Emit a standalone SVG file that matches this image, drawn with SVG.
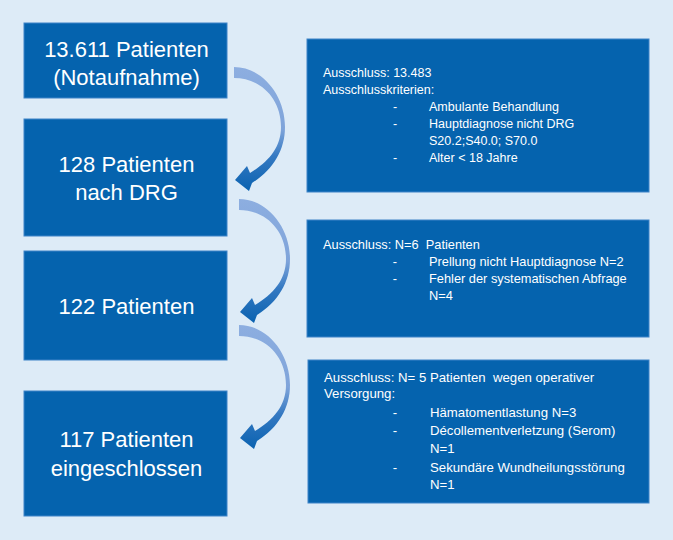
<svg xmlns="http://www.w3.org/2000/svg" width="673" height="540" viewBox="0 0 673 540">
<style>
.box{fill:#0563AE;stroke:#3F84C8;stroke-width:1}
.big{font-family:"Liberation Sans",Arial,sans-serif;font-size:22px;fill:#fff;text-anchor:middle}
.sm{font-family:"Liberation Sans",Arial,sans-serif;fill:#fff;white-space:pre}
.a{font-size:12.5px}
.b{font-size:12.8px}
.c{font-size:13.2px}
.d{text-anchor:middle}
</style>
<defs>
<linearGradient id="g" x1="0" y1="0" x2="0" y2="1">
<stop offset="0" stop-color="#8DAEE0"/>
<stop offset="0.5" stop-color="#7FA4DA"/>
<stop offset="0.72" stop-color="#3479C2"/>
<stop offset="1" stop-color="#0A62B0"/>
</linearGradient>
<path id="arr" d="M234,67 C262,67 285,95 285,127 C285,150 273,170 252,183 L249,191 L235,180 L247,166 L250,173 C268,162 281,148 281,127 C281,98 260,78 234,78 Z" fill="url(#g)"/>
</defs>
<rect width="673" height="540" fill="#DDEBF7"/>
<g id="connectors">
<use href="#arr"/>
<use href="#arr" transform="translate(5,132)"/>
<use href="#arr" transform="translate(5,258)"/>
</g>
<g id="n1"><rect class="box" x="24" y="23" width="203" height="75"/>
<text class="big" x="126.5" y="57">13.611 Patienten</text>
<text class="big" x="126.5" y="85">(Notaufnahme)</text></g>
<g id="n2"><rect class="box" x="24" y="119" width="203" height="117"/>
<text class="big" x="126.5" y="172">128 Patienten</text>
<text class="big" x="126.5" y="200">nach DRG</text></g>
<g id="n3"><rect class="box" x="24" y="251" width="203" height="109"/>
<text class="big" x="126.5" y="314">122 Patienten</text></g>
<g id="n4"><rect class="box" x="24" y="391" width="203" height="125"/>
<text class="big" x="126.5" y="447">117 Patienten</text>
<text class="big" x="126.5" y="476">eingeschlossen</text></g>
<g id="ex1"><rect class="box" x="307" y="39" width="342" height="153"/>
<text class="sm a" x="323" y="77">Ausschluss: 13.483</text>
<text class="sm a" x="323" y="94">Ausschlusskriterien:</text>
<text class="sm a d" x="395" y="111">-</text><text class="sm a" x="429" y="111">Ambulante Behandlung</text>
<text class="sm a d" x="395" y="128">-</text><text class="sm a" x="429" y="128">Hauptdiagnose nicht DRG</text>
<text class="sm a" x="429" y="145">S20.2;S40.0; S70.0</text>
<text class="sm a d" x="395" y="162">-</text><text class="sm a" x="429" y="162">Alter &lt; 18 Jahre</text></g>
<g id="ex2"><rect class="box" x="307" y="220" width="342" height="117"/>
<text class="sm b" x="323" y="249">Ausschluss: N=6  Patienten</text>
<text class="sm b d" x="395" y="266">-</text><text class="sm b" x="429" y="266">Prellung nicht Hauptdiagnose N=2</text>
<text class="sm b d" x="395" y="283">-</text><text class="sm b" x="429" y="283">Fehler der systematischen Abfrage</text>
<text class="sm b" x="429" y="300">N=4</text></g>
<g id="ex3"><rect class="box" x="308" y="360" width="341" height="143"/>
<text class="sm c" x="324" y="382">Ausschluss: N= 5 Patienten  wegen operativer</text>
<text class="sm c" x="324" y="398">Versorgung:</text>
<text class="sm c d" x="395" y="417">-</text><text class="sm c" x="430" y="417">Hämatomentlastung N=3</text>
<text class="sm c d" x="395" y="435">-</text><text class="sm c" x="430" y="435">Décollementverletzung (Serom)</text>
<text class="sm c" x="430" y="453">N=1</text>
<text class="sm c d" x="395" y="472">-</text><text class="sm c" x="430" y="472">Sekundäre Wundheilungsstörung</text>
<text class="sm c" x="430" y="489">N=1</text></g>
</svg>
